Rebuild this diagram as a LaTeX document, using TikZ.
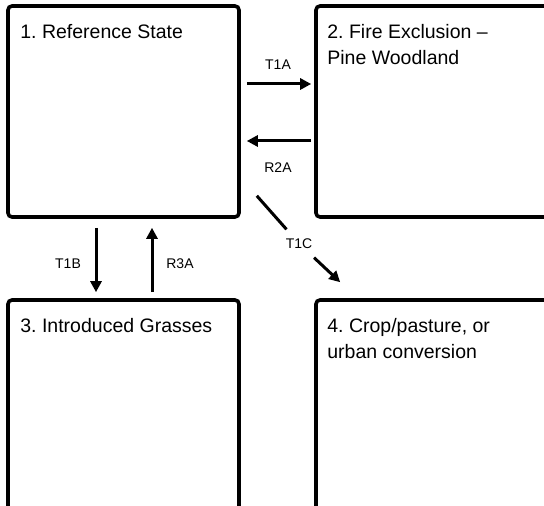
\documentclass[tikz,border=0pt]{standalone}
\usepackage{fontspec}
\setmainfont{Liberation Sans}
\frenchspacing
\usetikzlibrary{arrows.meta,calc,positioning}

\begin{document}
\begin{tikzpicture}[x=1pt,y=1pt,
  box/.style={draw,line width=3.6pt,rounded corners=4pt,minimum width=231pt,minimum height=211pt,inner sep=0pt},
  title/.style={anchor=north west,inner sep=0pt,align=left,font=\fontsize{19.5}{26.5}\selectfont},
  lab/.style={inner sep=0pt,font=\fontsize{14}{16}\selectfont},
  arr/.style={line width=3pt,-{Triangle[length=11pt,width=11pt]}}]
  \clip (0,0) rectangle (544,506); %只显示图的区域
  \node[box] (b1) at (123.5,394.5) {};
  \node[box,minimum width=240pt] (b2) at (436,394.5) {};
  \node[box,minimum height=220pt] (b3) at (123.5,96) {};
  \node[box,minimum width=240pt,minimum height=220pt] (b4) at (436,96) {};
  \node[title] (t1) at ($(b1.north west)+(14,-19.5)$) {1. Reference State};
  \node[title] (t2) at ($(b2.north west)+(13,-19.5)$) {2. Fire Exclusion --\\Pine Woodland};
  \node[title] (t3) at ($(b3.north west)+(14,-19.5)$) {3. Introduced Grasses};
  \node[title] (t4) at ($(b4.north west)+(13,-19.5)$) {4. Crop/pasture, or\\urban conversion};
  % 两个上方状态之间的转换
  \draw[arr] ($(b1.east)+(6,27.5)$) -- ($(b2.west)+(-3,27.5)$);
  \draw[arr] ($(b2.west)+(-3,-29.5)$) -- ($(b1.east)+(6,-29.5)$);
  \node[lab] (l1a) at (278,441) {T1A};
  \node[lab] (l2a) at (278,338) {R2A};
  % 左侧上下转换
  \draw[arr] ($(b1.south)+(-27.5,-9)$) -- ($(b3.north)+(-27.5,6)$);
  \draw[arr] ($(b3.north)+(28.5,6)$) -- ($(b1.south)+(28.5,-9)$);
  \node[lab] (l1b) at (68,242) {T1B};
  \node[lab] (l3a) at (180,242) {R3A};
  % 斜向转换 T1C
  \coordinate (c1) at ($(b1.south east)+(16,23)$);
  \coordinate (c2) at ($(b4.north west)+(26,16)$);
  \node[lab,inner xsep=2pt,inner ysep=9pt] (l1c) at (299,262.5) {T1C};
  \draw[line width=3pt] (c1) -- (l1c);
  \draw[arr] (l1c) -- (c2);
\end{tikzpicture}
\end{document}
